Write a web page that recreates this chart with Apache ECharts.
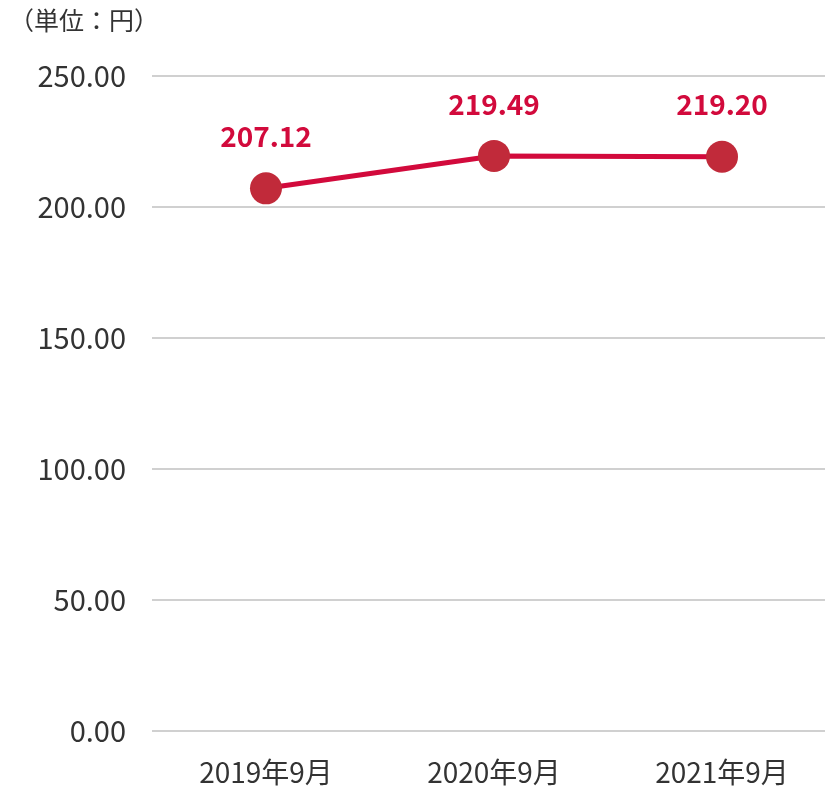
<!DOCTYPE html>
<html><head><meta charset="utf-8">
<script src="https://cdn.jsdelivr.net/npm/echarts@6/dist/echarts.min.js"></script>
<style>html,body{margin:0;padding:0;background:#fff;overflow:hidden}#c{width:836px;height:791px}</style>
</head><body><div id="c"></div>
<script>
const categories = ['2019年9月', '2020年9月', '2021年9月'];
const values = [207.12, 219.49, 219.20];
const unitLabel = '（単位：円）';
const yMin = 0, yMax = 250, yInterval = 50;

const FONT = '"Noto Sans CJK JP", "Noto Sans", sans-serif';
const chart = echarts.init(document.getElementById('c'), null, {renderer: 'canvas'});
chart.setOption({
  animation: false,
  backgroundColor: '#fff',
  title: {
    text: unitLabel, left: 4, top: 3,
    textStyle: {fontFamily: FONT, fontSize: 25, fontWeight: 'normal', color: '#333'}
  },
  grid: {left: 152, right: 0, top: 76, bottom: 60, containLabel: false},
  xAxis: {
    type: 'category', data: categories, boundaryGap: true,
    axisLine: {show: false}, axisTick: {show: false},
    axisLabel: {fontFamily: FONT, fontSize: 28, color: '#333', margin: 27}
  },
  yAxis: {
    type: 'value', min: yMin, max: yMax, interval: yInterval,
    axisLine: {show: false}, axisTick: {show: false},
    axisLabel: {fontFamily: FONT, fontSize: 29, color: '#333', margin: 26,
      formatter: v => v.toFixed(2)},
    splitLine: {lineStyle: {color: '#d0d0d0', width: 2}}
  },
  series: [{
    type: 'line', data: values,
    symbol: 'circle', symbolSize: 32,
    lineStyle: {color: '#d20a3c', width: 5},
    itemStyle: {color: '#c12a3a'},
    label: {show: true, position: 'top', distance: 22,
      fontFamily: FONT, fontSize: 28, fontWeight: 'bold', color: '#d20a3c',
      formatter: p => p.value.toFixed(2)}
  }]
});
</script></body></html>
